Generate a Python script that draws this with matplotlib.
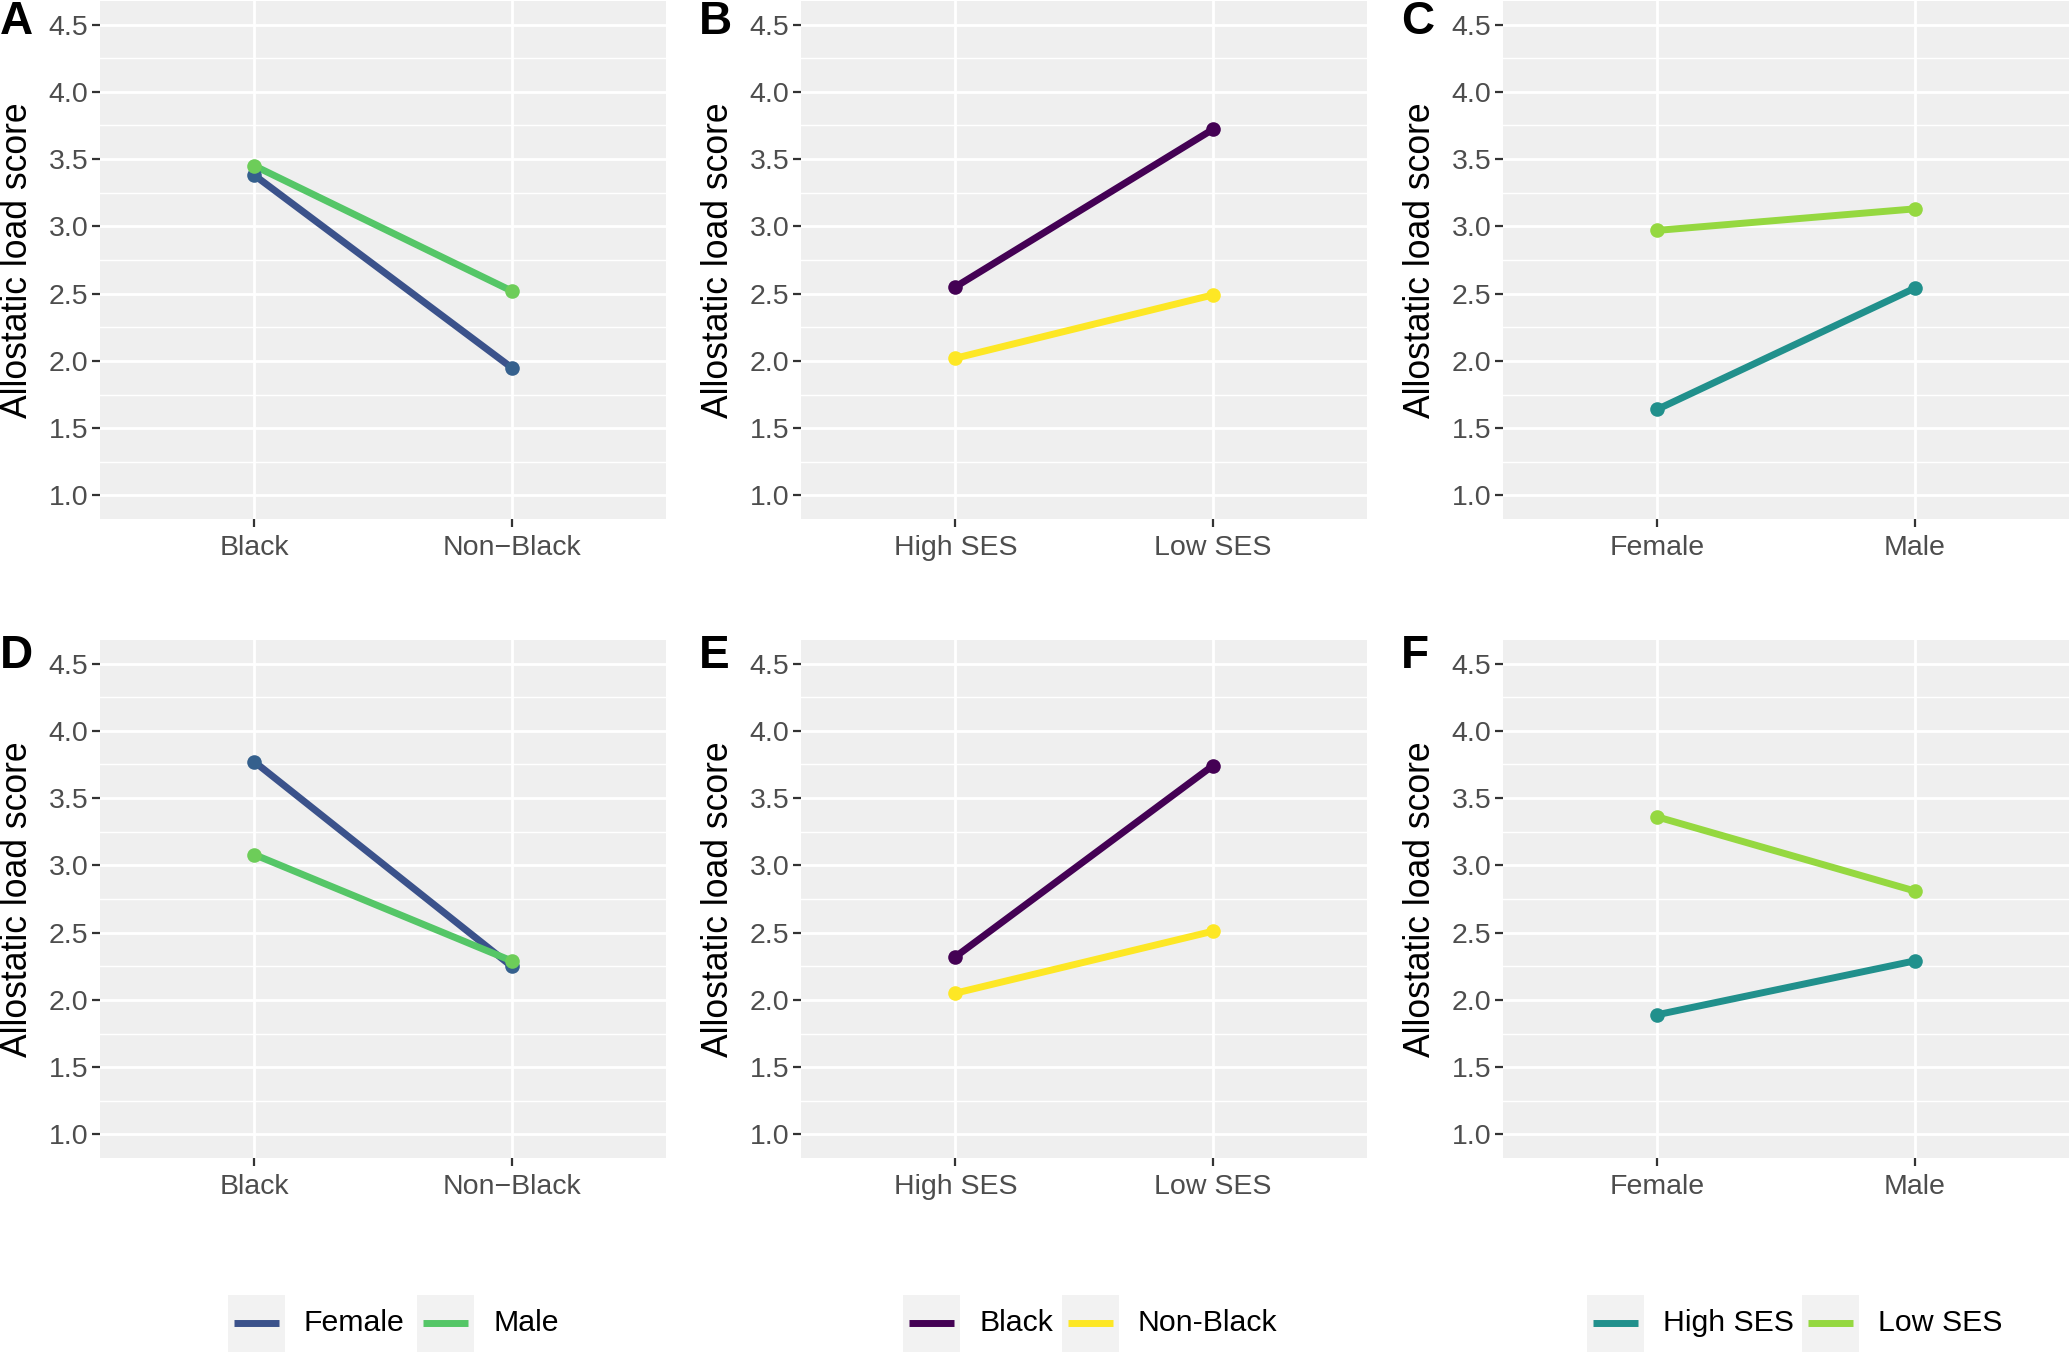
import matplotlib
matplotlib.use("Agg")
import matplotlib.pyplot as plt
from matplotlib.patches import Rectangle
from matplotlib.lines import Line2D
import numpy as np

plt.rcParams['font.family'] = ['Liberation Sans', 'DejaVu Sans']

# ---------------- data ----------------
race_ticks = ["Black", "Non\u2212Black"]
ses_ticks = ["High SES", "Low SES"]
sex_ticks = ["Female", "Male"]

sex_legend = ["Female", "Male"]
race_legend = ["Black", "Non-Black"]
ses_legend = ["High SES", "Low SES"]

# Panel A (by race, lines = sex)
A_female = [3.38, 1.95]
A_male = [3.45, 2.52]
# Panel B (by SES, lines = race)
B_black = [2.55, 3.72]
B_nonblack = [2.02, 2.49]
# Panel C (by sex, lines = SES)
C_high = [1.64, 2.54]
C_low = [2.97, 3.13]
# Panel D
D_female = [3.77, 2.25]
D_male = [3.08, 2.29]
# Panel E
E_black = [2.32, 3.74]
E_nonblack = [2.05, 2.51]
# Panel F
F_high = [1.89, 2.29]
F_low = [3.36, 2.81]

y_ticks = [1.0, 1.5, 2.0, 2.5, 3.0, 3.5, 4.0, 4.5]

sex_line_colors = ["#3B528B", "#55C667"]
sex_point_colors = ["#35608D", "#6DCD59"]
race_colors = ["#440154", "#FDE725"]
ses_line_colors = ["#21908C", "#95D840"]
ses_point_colors = ["#21908C", "#95D840"]

W, H = 2069, 1352
fig = plt.figure(figsize=(W / 100, H / 100), dpi=100)

col_left = [100, 801, 1503]
col_w = 566
row_top = [1, 640]
row_h = 518

panel_specs = [
    ("A", 0, 0, race_ticks, [A_female, A_male], sex_line_colors, sex_point_colors),
    ("B", 0, 1, ses_ticks, [B_black, B_nonblack], race_colors, race_colors),
    ("C", 0, 2, sex_ticks, [C_high, C_low], ses_line_colors, ses_point_colors),
    ("D", 1, 0, race_ticks, [D_female, D_male], sex_line_colors, sex_point_colors),
    ("E", 1, 1, ses_ticks, [E_black, E_nonblack], race_colors, race_colors),
    ("F", 1, 2, sex_ticks, [F_high, F_low], ses_line_colors, ses_point_colors),
]

tick_fs = 20.5
legend_fs = 21.8
title_fs = 25.6

for label, r, c, cats, series, lcols, pcols in panel_specs:
    x0 = col_left[c]
    y0 = row_top[r]
    ax = fig.add_axes([x0 / W, 1 - (y0 + row_h) / H, col_w / W, row_h / H])
    ax.set_facecolor("#EFEFEF")
    for s in ax.spines.values():
        s.set_visible(False)
    xpos = np.arange(1, len(cats) + 1)
    ax.set_xlim(0.4, 2.6)
    ax.set_ylim(0.825, 4.675)
    ax.set_yticks(y_ticks)
    ax.set_yticklabels([f"{v:.1f}" for v in y_ticks])
    ax.set_yticks(np.arange(1.25, 4.5, 0.5), minor=True)
    ax.set_xticks(xpos)
    ax.set_xticklabels(cats)
    ax.grid(which="major", color="white", linewidth=2.0)
    ax.grid(which="minor", axis="y", color="white", linewidth=1.0)
    ax.set_axisbelow(True)
    ax.tick_params(axis="both", which="major", length=5.5, width=1.6,
                   color="#333333", labelsize=tick_fs, labelcolor="#4D4D4D")
    ax.tick_params(axis="x", pad=6)
    ax.tick_params(axis="y", pad=3)
    ax.tick_params(which="minor", length=0)
    for vals, lc, pc in zip(series, lcols, pcols):
        ax.plot(xpos, vals, color=lc, linewidth=5.0, solid_capstyle="butt", zorder=3)
        ax.plot(xpos, vals, linestyle="none", marker="o", markersize=10.5,
                color=pc, markeredgewidth=0, zorder=4)
    ax.set_ylabel("Allostatic load score", fontsize=title_fs, color="black", va="center")
    ax.yaxis.set_label_coords(-0.145, 0.5)
    # panel tag
    lx = [0, 699, 1401][c]
    ly = [22, 656][r]
    fig.text(lx / W, 1 - ly / H, label, fontsize=33, fontweight="bold",
             ha="left", va="center", color="black")

# ---------------- legends ----------------
lax = fig.add_axes([0, 0, 1, 1], facecolor="none")
lax.set_xlim(0, W)
lax.set_ylim(H, 0)
lax.axis("off")

legend_groups = [
    (sex_legend, sex_line_colors, [228, 417]),
    (race_legend, race_colors, [903, 1062]),
    (ses_legend, ses_line_colors, [1587, 1802]),
]
key = 57
cy = 1323
for names, cols, xs in legend_groups:
    for name, col, kx in zip(names, cols, xs):
        lax.add_patch(Rectangle((kx, cy - key / 2), key, key, facecolor="#F2F2F2",
                                edgecolor="none"))
        lax.add_line(Line2D([kx + 6, kx + key - 6], [cy, cy], color=col,
                            linewidth=5.0, solid_capstyle="butt"))
        lax.text(kx + key + 19, cy, name, fontsize=legend_fs, color="black",
                 ha="left", va="center")

fig.savefig("out.png", dpi=100)
